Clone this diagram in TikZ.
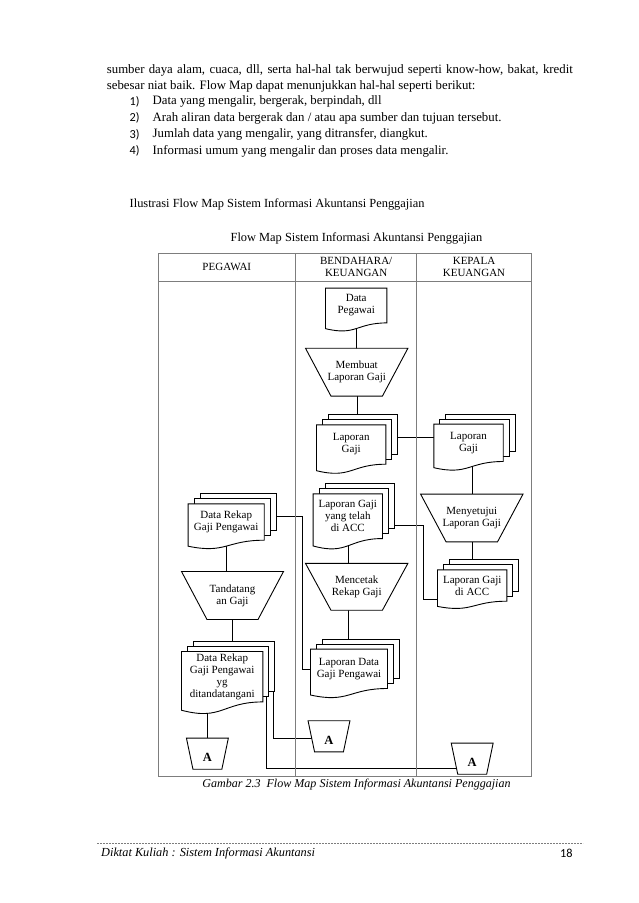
\documentclass[tikz,border=0pt]{standalone}
\usepackage{fontspec}
\setmainfont{Liberation Serif}
\newfontfamily\numfont{Carlito}
\usetikzlibrary{calc,backgrounds}

\definecolor{lanegray}{RGB}{125,125,125}
\newcommand\bodyfont{\fontsize{12.8}{15}\selectfont}
\newcommand\flowfont{\fontsize{11}{12}\selectfont}

% document sheet with a wavy bottom, drawn round a named node
\newcommand\docshape[1]{%
  \draw[sheet] (#1.north west) -- (#1.north east) -- (#1.south east)
    .. controls (#1.south) and ($(#1.north)!1.38!(#1.south)$) .. ($(#1.north west)!1.165!(#1.south west)$) -- cycle;}
% two sheets behind, then the front one
\newcommand\docstack[1]{%
  \foreach \dx/\dy in {12/10,6/5}
    {\draw[sheet] ([shift={(\dx,-\dy)}]#1.north west) rectangle ([shift={(\dx,-\dy)}]#1.south east);}
  \docshape{#1}}
% manual operation, #2 = inset of the lower corners
\newcommand\manualop[2]{%
  \draw[sheet] (#1.north west) -- (#1.north east) -- ([xshift=-#2]#1.south east) -- ([xshift=#2]#1.south west) -- cycle;}

\begin{document}
\begin{tikzpicture}[x=1pt, y=-1pt,
    body text/.style={font=\bodyfont, anchor=west, inner sep=0pt},
    item num/.style={font=\numfont\fontsize{12.3}{15}\selectfont, anchor=west, inner sep=0pt},
    flow label/.style={font=\flowfont, align=center, inner sep=0pt},
    lane head/.style={flow label, font=\fontsize{11}{12.6}\selectfont},
    conn label/.style={flow label, font=\fontsize{12.5}{14}\bfseries, text height=16, text depth=0, minimum width=41.5, minimum height=30.7},
    sheet/.style={draw, fill=white, line width=0.9pt},
    lane line/.style={draw=lanegray, line width=0.7pt},
    link/.style={line width=0.9pt},
  ]
  \useasboundingbox (0,0) rectangle (638,903);
  \begin{scope}[on background layer]
    \fill[white] (0,0) rectangle (638,903);
  \end{scope}

  % text of the page
  \node[body text] (line1) at (106.7,70) {\makebox[466pt][s]{sumber daya alam, cuaca, dll, serta hal-hal tak berwujud seperti know-how, bakat, kredit}};
  \node[body text] (line2) at (106.7,86.7) {sebesar niat baik. Flow Map dapat menunjukkan hal-hal seperti berikut:};
  \foreach \t [count=\i, evaluate=\i as \y using 85.25+16.45*\i] in {{Data yang mengalir, bergerak, berpindah, dll},
      {Arah aliran data bergerak dan / atau apa sumber dan tujuan tersebut.},
      {Jumlah data yang mengalir, yang ditransfer, diangkut.},
      {Informasi umum yang mengalir dan proses data mengalir.}} {
    \node[item num] (num\i) at (129.5,\y) {\i)};
    \node[body text] (item\i) at (152.5,\y) {\t};
  }
  \node[body text, font=\fontsize{12.4}{15}\selectfont] (intro) at (129.5,204) {Ilustrasi Flow Map Sistem Informasi Akuntansi Penggajian};
  \node[font=\fontsize{12.4}{15}\selectfont, inner sep=0pt] (title) at (356.5,238) {Flow Map Sistem Informasi Akuntansi Penggajian};

  % lanes
  \draw[lane line] (158,253.3) rectangle (531.5,776);
  \draw[lane line] (158,281.7) -- (531.5,281.7);
  \foreach \x in {295.7,416.7}
    \draw[lane line] (\x,253.3) -- (\x,776);
  \node[lane head] (hpeg) at (226.8,267) {PEGAWAI};
  \node[lane head] (hbend) at (356.2,267) {BENDAHARA/\\KEUANGAN};
  \node[lane head] (hkep) at (474,267) {KEPALA\\KEUANGAN};

  % bendahara
  \node[flow label, minimum width=61, minimum height=34.4] (dp) at (356.2,305.5) {Data\\Pegawai};
  \node[flow label, minimum width=102, minimum height=47.5] (mlg) at (356.7,372.2) {Membuat\\Laporan Gaji};
  \node[flow label, minimum width=69, minimum height=39] (lgb) at (351.2,444.5) {Laporan\\Gaji};
  \node[flow label, minimum width=69, minimum height=44.3] (lga) at (347.8,516.2) {Laporan Gaji\\yang telah\\di ACC};
  \node[flow label, minimum width=102, minimum height=46.5] (mrg) at (356.7,586.8) {Mencetak\\Rekap Gaji};
  \node[flow label, minimum width=76.6, minimum height=39] (ldg) at (349,668.8) {Laporan Data\\Gaji Pengawai};
  \node[conn label] (a2) at (329,736.3) {A};

  % kepala keuangan
  \node[flow label, minimum width=69, minimum height=37] (lgk) at (468.5,442.8) {Laporan\\Gaji};
  \node[flow label, minimum width=102, minimum height=47.4] (mly) at (471.8,518) {Menyetujui\\Laporan Gaji};
  \node[flow label, minimum width=69, minimum height=31] (lgk2) at (472.2,585.5) {Laporan Gaji\\di ACC};
  \node[conn label] (a3) at (472.2,758.7) {A};

  % pegawai
  \node[flow label, minimum width=75.7, minimum height=36] (drg) at (226.2,522) {Data Rekap\\Gaji Pengawai};
  \node[flow label, minimum width=101.6, minimum height=47.6] (tg) at (232.5,595.5) {Tandatang\\an Gaji};
  \node[flow label, minimum width=81, minimum height=50] (drt) at (222.2,676.7) {Data Rekap\\Gaji Pengawai\\yg\\ditandatangani};
  \node[conn label] (a1) at (207.4,753.7) {A};

  \coordinate (b1) at (301.7,516);
  \coordinate (b2) at (422.7,525);
  \coordinate (b4) at (272.7,738.3);
  \coordinate (b5) at (266,768.3);

  % connectors, then the shapes over their ends
  \begin{scope}[on background layer, link]
    \draw (dp) -- (dp |- mlg);
    \draw (mlg) -- (mlg |- lgb);
    \draw ($(lgb.east)+(0,-7)$) -- ($(lgk.west)+(0,-5.3)$);
    \draw (mly |- lgk) -- (mly);
    \draw (mly) -- (mly |- lgk2);
    \draw (b2 -| lga) -- (b2) |- ($(lgk2.west)+(0,13.5)$);
    \draw (lga) -- (lga |- mrg);
    \draw (mrg -| lga) -- (ldg -| lga);
    \draw (drg) -- (drg |- tg);
    \draw (b1 -| drg) -- (b1) |- (ldg);
    \draw (tg) -- (tg |- drt);
    \draw (a1 |- drt) -- (a1);
    \draw (b4 |- drt) -- (b4) -- (b4 -| a2);
    \draw (b5 |- drt) -- (b5) -- (b5 -| a3);
  \end{scope}
  \begin{scope}[on background layer]
    \docshape{dp}
    \foreach \n in {lgb,lgk,lgk2,lga,ldg,drg,drt}
      {\docstack{\n}}
    \foreach \n in {mlg,mly,mrg,tg}
      {\manualop{\n}{25.5}}
    \foreach \n in {a1,a2,a3}
      {\manualop{\n}{6.5}}
  \end{scope}

  \node[font=\fontsize{12.05}{14}\itshape, inner sep=0pt] (caption) at (356.5,785) {Gambar 2.3\ \ Flow Map Sistem Informasi Akuntansi Penggajian};

  % footer
  \draw[lanegray, dash pattern=on 2pt off 1pt, line width=0.5pt] (97,843.4) -- (583,843.4);
  \node[body text, font=\fontsize{12.3}{14}\itshape] (foot) at (101,853) {Diktat Kuliah : Sistem Informasi Akuntansi};
  \node[item num] (page) at (560,853) {18};
\end{tikzpicture}
\end{document}
